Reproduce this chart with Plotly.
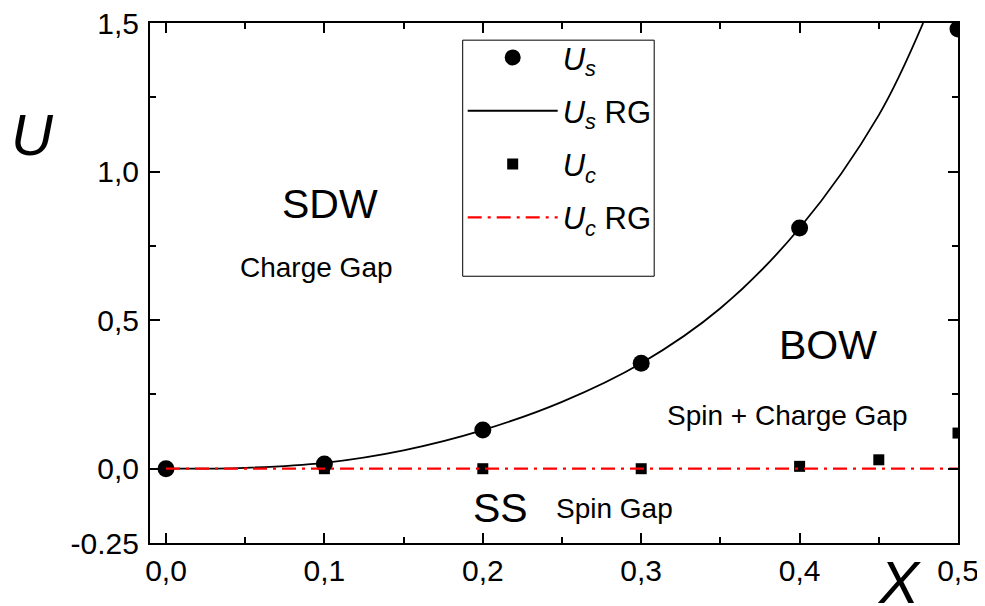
import plotly.graph_objects as go

# ---- data ----
x_us = [0.0, 0.1, 0.2, 0.3, 0.4, 0.5]
y_us = [0.0, 0.016, 0.13, 0.355, 0.81, 1.48]

x_us_rg = [0.0, 0.05, 0.1, 0.15, 0.2, 0.25, 0.3, 0.35, 0.4, 0.45, 0.478]
y_us_rg = [0.0, 0.003, 0.02, 0.062, 0.13, 0.225, 0.355, 0.54, 0.81, 1.19, 1.5]

x_uc = [0.0, 0.1, 0.2, 0.3, 0.4, 0.45, 0.5]
y_uc = [0.0, 0.0, 0.0, 0.0, 0.008, 0.03, 0.12]

x_uc_rg = [0.0, 0.5]
y_uc_rg = [0.0, 0.0]

x_ticks = [0.0, 0.1, 0.2, 0.3, 0.4, 0.5]
x_ticklabels = ["0,0", "0,1", "0,2", "0,3", "0,4", "0,5"]
x_minor = [0.05, 0.15, 0.25, 0.35, 0.45]
y_ticks = [-0.25, 0.0, 0.5, 1.0, 1.5]
y_ticklabels = ["-0.25", "0,0", "0,5", "1,0", "1,5"]
y_minor = [0.25, 0.75, 1.25]

region_labels = ["SDW", "Charge Gap", "BOW", "Spin + Charge Gap", "SS", "Spin Gap"]
region_x = [0.1035, 0.0953, 0.4177, 0.3924, 0.2114, 0.2833]
region_y = [0.89, 0.678, 0.418, 0.179, -0.131, -0.135]
region_sizes = [41, 28, 41, 28, 41, 28]

FONT = "Liberation Sans, Arial, sans-serif"

fig = go.Figure()
fig.add_trace(go.Scatter(
    x=x_us, y=y_us, mode="markers", name="<i>U</i><sub><i>s</i></sub>",
    marker=dict(symbol="circle", size=17, color="black"), legendgroup="a"))
fig.add_trace(go.Scatter(
    x=x_us_rg, y=y_us_rg, mode="lines", name="<i>U</i><sub><i>s</i></sub> RG",
    line=dict(color="black", width=1.8, shape="spline", smoothing=1.0), legendgroup="b"))
fig.add_trace(go.Scatter(
    x=x_uc, y=y_uc, mode="markers", name="<i>U</i><sub><i>c</i></sub>",
    marker=dict(symbol="square", size=11, color="black"), legendgroup="c"))
fig.add_trace(go.Scatter(
    x=x_uc_rg, y=y_uc_rg, mode="lines", name="<i>U</i><sub><i>c</i></sub> RG",
    line=dict(color="red", width=2.2, dash="14px,6px,3px,6px"), legendgroup="d"))

for t, xx, yy, s in zip(region_labels, region_x, region_y, region_sizes):
    fig.add_annotation(x=xx, y=yy, xref="x", yref="y", text=t, showarrow=False,
                       xanchor="center", yanchor="middle",
                       font=dict(family=FONT, size=s, color="black"))

fig.add_annotation(x=-0.146, y=0.7865, xref="paper", yref="paper", text="<i>U</i>",
                   showarrow=False, xanchor="center", yanchor="middle",
                   font=dict(family=FONT, size=58, color="black"))
fig.add_annotation(x=0.927, y=-0.075, xref="paper", yref="paper", text="<i>X</i>",
                   showarrow=False, xanchor="center", yanchor="middle",
                   font=dict(family=FONT, size=60, color="black"))

# legend frame
fig.add_shape(type="rect", xref="paper", yref="paper",
              x0=0.387, x1=0.624, y0=0.513, y1=0.967,
              line=dict(color="black", width=1), fillcolor="rgba(0,0,0,0)")

axis_common = dict(showline=True, linecolor="black", linewidth=2, mirror="allticks",
                   ticks="inside", ticklen=10, tickwidth=2, tickcolor="black",
                   showgrid=False, zeroline=False, automargin=False,
                   ticklabeloverflow="allow",
                   tickfont=dict(family=FONT, size=30, color="black"))

fig.update_xaxes(range=[-0.0101, 0.5], tickvals=x_ticks, ticktext=x_ticklabels,
                 minor=dict(tickvals=x_minor, ticks="inside", ticklen=6, tickwidth=2,
                            tickcolor="black", showgrid=False),
                 ticklabelstandoff=0, **axis_common)
fig.update_yaxes(range=[-0.25, 1.5], tickvals=y_ticks, ticktext=y_ticklabels,
                 minor=dict(tickvals=y_minor, ticks="inside", ticklen=6, tickwidth=2,
                            tickcolor="black", showgrid=False),
                 ticklabelstandoff=3, **axis_common)

fig.update_layout(
    width=977, height=598,
    margin=dict(l=142, r=27, t=15, b=63, autoexpand=False),
    paper_bgcolor="white", plot_bgcolor="white",
    showlegend=True,
    legend=dict(x=0.387, y=0.985, xanchor="left", yanchor="top",
                bgcolor="rgba(0,0,0,0)", borderwidth=0,
                font=dict(family=FONT, size=31, color="black"),
                tracegroupgap=10, itemwidth=90),
    font=dict(family=FONT, color="black"),
)

fig.write_html("out.html")
